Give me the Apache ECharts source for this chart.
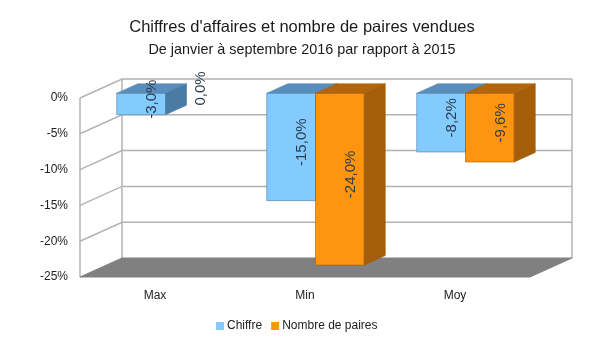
<!DOCTYPE html>
<html>
<head>
<meta charset="utf-8">
<script src="https://cdn.jsdelivr.net/npm/echarts@6/dist/echarts.min.js"></script>
<style>html,body{margin:0;padding:0;background:#fff;}#c{width:604px;height:340px;}</style>
</head>
<body>
<div id="c"></div>
<script>
const categories = ['Max', 'Min', 'Moy'];
const chiffre = [-3.0, -15.0, -8.2];
const paires = [0.0, -24.0, -9.6];
const yTicks = [0, -5, -10, -15, -20, -25];
const seriesNames = ['Chiffre', 'Nombre de paires'];

const DX = 42, DY = -19;
const FONT = 'Liberation Sans, Arial, sans-serif';

function fmt(v) { return v.toFixed(1).replace('.', ',') + '%'; }

function wallItem(params, api) {
  const cs = params.coordSys;
  const v = api.value(1);
  const p = api.coord([0, v]);
  const y = p[1];
  const x0 = cs.x, x1 = cs.x + cs.width;
  const lineStyle = { stroke: '#b3b3b3', lineWidth: 1.5, fill: null };
  const children = [];
  if (v === yTicks[yTicks.length - 1]) {
    children.push({ type: 'polygon', shape: { points: [[x0, y], [x0 + DX, y + DY], [x1 + DX, y + DY], [x1, y]] },
      style: { fill: '#808080', stroke: '#808080', lineWidth: 1 } });
  } else {
    children.push({ type: 'polyline', shape: { points: [[x0, y], [x0 + DX, y + DY], [x1 + DX, y + DY]] }, style: lineStyle });
  }
  if (v === yTicks[0]) {
    const yb = api.coord([0, yTicks[yTicks.length - 1]])[1];
    children.push({ type: 'line', shape: { x1: x0, y1: y, x2: x0, y2: yb }, style: lineStyle });
    children.push({ type: 'line', shape: { x1: x0 + DX, y1: y + DY, x2: x0 + DX, y2: yb + DY }, style: lineStyle });
    children.push({ type: 'line', shape: { x1: x1 + DX, y1: y + DY, x2: x1 + DX, y2: yb + DY }, style: lineStyle });
  }
  return { type: 'group', children: children };
}

function makeBarRender(sIdx, cFront, cTop, cSide) {
  return function (params, api) {
    const cat = api.value(0), val = api.value(1);
    const p0 = api.coord([cat, 0]);
    const p1 = api.coord([cat, val]);
    const band = api.size([1, 0])[0];
    const bw = band * 0.325;
    const xL = p0[0] + (sIdx === 0 ? -bw : 0) + DX / 4;
    const xR = xL + bw;
    const yT = p0[1] + DY / 4;
    const yB = p1[1] + DY / 4;
    const dx = DX / 2, dy = DY / 2;
    const children = [];
    if (val !== 0) {
      children.push({ type: 'polygon', shape: { points: [[xL, yT], [xR, yT], [xR, yB], [xL, yB]] },
        style: { fill: cFront, stroke: cSide, lineWidth: 0.6 } });
      children.push({ type: 'polygon', shape: { points: [[xL, yT], [xR, yT], [xR + dx, yT + dy], [xL + dx, yT + dy]] },
        style: { fill: cTop, stroke: cTop, lineWidth: 0.6 } });
      children.push({ type: 'polygon', shape: { points: [[xR, yT], [xR + dx, yT + dy], [xR + dx, yB + dy], [xR, yB]] },
        style: { fill: cSide, stroke: cSide, lineWidth: 0.6 } });
    }
    children.push({ type: 'text', x: (xL + xR) / 2 + dx / 2, y: (yT + yB) / 2 + dy / 2, rotation: Math.PI / 2,
      style: { text: fmt(val), align: 'center', verticalAlign: 'middle', fill: '#2e3d4c',
        font: '15px ' + FONT }, z2: 10 });
    return { type: 'group', children: children };
  };
}

const chart = echarts.init(document.getElementById('c'), null, { renderer: 'canvas' });
chart.setOption({
  animation: false,
  backgroundColor: '#fff',
  title: {
    text: "Chiffres d'affaires et nombre de paires vendues",
    subtext: 'De janvier à septembre 2016 par rapport à 2015',
    left: 'center', top: 14, itemGap: 7,
    textStyle: { fontFamily: FONT, fontSize: 16.5, fontWeight: 'normal', color: '#1a1a1a' },
    subtextStyle: { fontFamily: FONT, fontSize: 14.4, color: '#1a1a1a' }
  },
  legend: {
    data: seriesNames, left: 211, top: 315, icon: 'rect', itemWidth: 8, itemHeight: 8, itemGap: 9,
    textStyle: { fontFamily: FONT, fontSize: 12, color: '#222', padding: [0, 0, 0, -2] }
  },
  grid: { left: 80, top: 98, width: 450, height: 179 },
  xAxis: {
    type: 'category', data: categories,
    axisLine: { show: false }, axisTick: { show: false }, splitLine: { show: false },
    axisLabel: { margin: 13, fontFamily: FONT, fontSize: 12, color: '#222' }
  },
  yAxis: {
    type: 'value', min: -25, max: 0, interval: 5,
    axisLine: { show: false }, axisTick: { show: false }, splitLine: { show: false },
    axisLabel: { margin: 12, formatter: '{value}%', fontFamily: FONT, fontSize: 12, color: '#222' }
  },
  series: [
    { type: 'custom', name: 'walls', silent: true, renderItem: wallItem, z: 1,
      data: yTicks.map(v => [0, v]), clip: false },
    { type: 'custom', name: seriesNames[0], itemStyle: { color: '#83caff' }, z: 2,
      renderItem: makeBarRender(0, '#83caff', '#5a8dbb', '#4b7aa4'),
      data: chiffre.map((v, i) => [i, v]), clip: false },
    { type: 'custom', name: seriesNames[1], itemStyle: { color: '#ff950e' }, z: 3,
      renderItem: makeBarRender(1, '#ff950e', '#b1650c', '#a45d08'),
      data: paires.map((v, i) => [i, v]), clip: false }
  ]
});
</script>
</body>
</html>
